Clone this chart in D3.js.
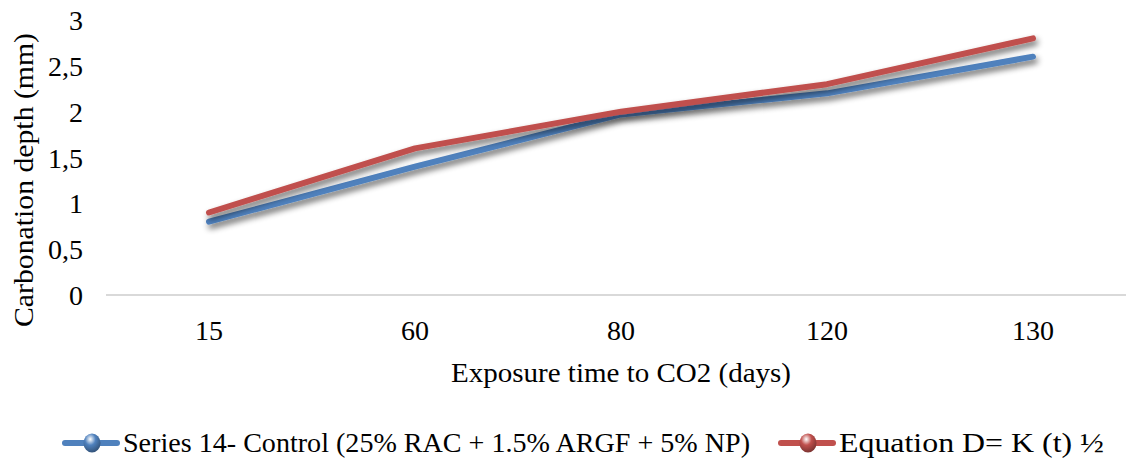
<!DOCTYPE html>
<html>
<head>
<meta charset="utf-8">
<script src="https://cdn.jsdelivr.net/npm/d3@7"></script>
<style>
  body { margin: 0; background: #fff; }
</style>
</head>
<body>
<div id="vis"></div>
<script>
// chart data
const days = ['15', '60', '80', '120', '130'];
const control = [0.8, 1.4, 1.97, 2.2, 2.6];
const equation = [0.9, 1.6, 2.0, 2.3, 2.8];
const yTicks = [0, 0.5, 1, 1.5, 2, 2.5, 3];
const seriesNames = ['Series 14- Control (25% RAC + 1.5% ARGF + 5% NP)', 'Equation D= K (t) ½'];
const colors = ['#4f81bd', '#c0504d'];

const W = 1126, H = 459;
const FONT = '"Liberation Serif", "Times New Roman", serif';
let margin = { top: 20, left: 106, right: -10, bottom: 164 },
  width = W - margin.left - margin.right,
  height = H - margin.top - margin.bottom;

let svg = d3.select('#vis').append('svg')
  .attr('width', W).attr('height', H)
  .style('background-color', 'white');

// soft shadow under the lines
let defs = svg.append('defs');
let f = defs.append('filter').attr('id', 'shadow')
  .attr('x', '-10%').attr('y', '-30%').attr('width', '120%').attr('height', '160%');
f.append('feGaussianBlur').attr('in', 'SourceAlpha').attr('stdDeviation', 3).attr('result', 'b');
f.append('feOffset').attr('in', 'b').attr('dx', 2).attr('dy', 4).attr('result', 'o');
f.append('feComponentTransfer').attr('in', 'o').attr('result', 's')
  .append('feFuncA').attr('type', 'linear').attr('slope', 0.6);
let m = f.append('feMerge');
m.append('feMergeNode').attr('in', 's');
m.append('feMergeNode').attr('in', 'SourceGraphic');

// sphere gradients for legend markers
colors.forEach((c, i) => {
  let gr = defs.append('radialGradient').attr('id', 'ball' + i)
    .attr('cx', '40%').attr('cy', '30%').attr('r', '70%');
  gr.append('stop').attr('offset', '0%').attr('stop-color', '#fff');
  gr.append('stop').attr('offset', '45%').attr('stop-color', c);
  gr.append('stop').attr('offset', '100%').attr('stop-color', d3.color(c).darker(1.2));
});

let g = svg.append('g').attr('transform', `translate(${margin.left},${margin.top})`);

let x = d3.scaleBand().domain(days).range([0, width]);
let y = d3.scaleLinear().domain([0, 3]).range([height, 0]);

// baseline
g.append('line')
  .attr('x1', 0).attr('x2', width)
  .attr('y1', y(0)).attr('y2', y(0))
  .attr('stroke', '#d9d9d9').attr('stroke-width', 2);

// y axis labels
let yAxis = d3.axisLeft(y).tickValues(yTicks)
  .tickFormat(d => String(d).replace('.', ','))
  .tickSize(0).tickPadding(23);
g.append('g').call(yAxis)
  .call(s => s.select('.domain').remove())
  .selectAll('text')
  .attr('dy', '0.34em')
  .style('font-family', FONT)
  .style('font-size', '28px')
  .style('fill', '#000');

// x axis labels
let xAxis = d3.axisBottom(x).tickSize(0).tickPadding(0);
g.append('g').attr('transform', `translate(0,${height})`).call(xAxis)
  .call(s => s.select('.domain').remove())
  .selectAll('text')
  .attr('y', 45).attr('dy', 0)
  .style('font-family', FONT)
  .style('font-size', '28px')
  .style('fill', '#000');

// lines
let line = d3.line()
  .x((d, i) => x(days[i]) + x.bandwidth() / 2)
  .y(d => y(d));

[control, equation].forEach((s, i) => {
  g.append('path').datum(s)
    .attr('d', line)
    .attr('fill', 'none')
    .attr('stroke', colors[i])
    .attr('stroke-width', 6)
    .attr('stroke-linecap', 'round')
    .attr('stroke-linejoin', 'round')
    .attr('filter', 'url(#shadow)');
});

// axis titles
svg.append('text')
  .attr('x', 621).attr('y', 382)
  .attr('text-anchor', 'middle')
  .attr('textLength', 340).attr('lengthAdjust', 'spacingAndGlyphs')
  .style('font-family', FONT)
  .style('font-size', '28px')
  .text('Exposure time to CO2 (days)');

svg.append('text')
  .attr('transform', 'translate(33,180) rotate(-90)')
  .attr('text-anchor', 'middle')
  .attr('textLength', 294).attr('lengthAdjust', 'spacingAndGlyphs')
  .style('font-family', FONT)
  .style('font-size', '28px')
  .text('Carbonation depth (mm)');

// legend
let legendX = [62, 778];
let legendW = [627, 265];
seriesNames.forEach((n, i) => {
  let lg = svg.append('g').attr('transform', `translate(${legendX[i]},443)`);
  lg.append('line').attr('x1', 3).attr('x2', 55).attr('y1', 0).attr('y2', 0)
    .attr('stroke', colors[i]).attr('stroke-width', 6)
    .attr('stroke-linecap', 'round');
  lg.append('ellipse').attr('cx', 30).attr('cy', 0).attr('rx', 8.5).attr('ry', 9.5)
    .attr('fill', `url(#ball${i})`);
  lg.append('text').attr('x', 61).attr('y', 9)
    .attr('textLength', legendW[i]).attr('lengthAdjust', 'spacingAndGlyphs')
    .style('font-family', FONT)
    .style('font-size', '28px')
    .text(n);
});
</script>
</body>
</html>
